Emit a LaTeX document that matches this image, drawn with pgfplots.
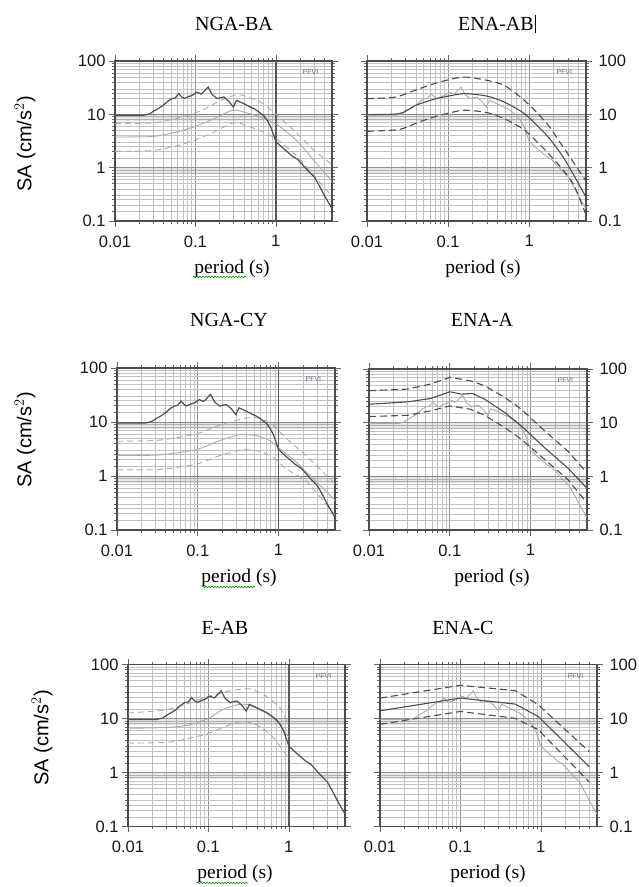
\documentclass[border=0pt]{standalone}
\usepackage{pgfplots}
\pgfplotsset{compat=1.18}
\usepackage{pgfplotstable}
\usepackage{fontspec}
\setmainfont{Liberation Serif}
\setsansfont{Liberation Sans}
\usetikzlibrary{decorations.pathmorphing}
\definecolor{dk}{HTML}{4D4D4D}
\definecolor{lt}{HTML}{AAAAAA}
\definecolor{pfvi}{HTML}{76688A}

\pgfplotstableread{
T SA
0.01 9.6
0.0226 9.6
0.027 10.2
0.030 11.4
0.035 13.0
0.040 14.8
0.045 17.5
0.051 19.7
0.056 20.2
0.062 24.4
0.068 21.0
0.073 19.9
0.082 21.5
0.091 22.7
0.105 26.0
0.118 24.0
0.130 27.5
0.144 32.5
0.162 23.4
0.187 19.7
0.205 20.5
0.226 21.1
0.261 17.5
0.296 13.7
0.324 18.3
0.360 17.0
0.402 15.8
0.460 14.2
0.535 12.8
0.620 11.0
0.714 9.3
0.790 7.5
0.866 5.8
1.0 3.1
1.2 2.4
1.40 1.97
1.60 1.65
1.87 1.43
2.20 1.10
2.49 0.89
3.01 0.67
3.50 0.45
4.02 0.30
5.0 0.17
}\recT

\pgfplotstableread{
T SA
0.01 6.7
0.03 6.9
0.06 8.5
0.095 10.3
0.15 14.0
0.205 18.3
0.33 23.5
0.45 21.0
0.65 17.0
1.04 9.6
1.87 4.3
3.0 2.1
5.0 1.15
}\baU
\pgfplotstableread{
T SA
0.01 3.76
0.03 3.85
0.06 4.7
0.095 5.8
0.154 7.7
0.29 11.9
0.45 10.5
0.65 8.9
1.04 6.4
1.87 3.1
3.0 1.35
5.0 0.55
}\baM
\pgfplotstableread{
T SA
0.01 2.02
0.03 2.1
0.06 2.6
0.095 3.25
0.154 4.3
0.30 7.0
0.45 6.0
0.65 4.9
1.04 3.4
1.87 1.6
3.0 0.7
5.0 0.29
}\baL

\pgfplotstableread{
T SA
0.01 19.7
0.0226 21.1
0.044 30.2
0.079 40.4
0.154 50.0
0.30 43.4
0.49 35.0
0.87 18.3
1.65 6.7
2.7 2.27
5.0 0.56
}\abU
\pgfplotstableread{
T SA
0.01 9.9
0.025 10.3
0.040 14.8
0.072 19.7
0.154 24.4
0.30 22.0
0.49 17.0
0.87 10.3
1.65 4.0
2.7 1.47
5.0 0.28
}\abM
\pgfplotstableread{
T SA
0.01 4.8
0.025 5.2
0.044 7.2
0.079 9.6
0.154 11.9
0.30 10.8
0.49 8.3
0.87 5.1
1.65 1.97
2.7 0.85
3.6 0.45
5.0 0.13
}\abL

\pgfplotstableread{
T SA
0.01 4.4
0.033 4.6
0.095 6.0
0.185 8.7
0.40 11.9
0.60 11.6
0.86 8.7
1.26 4.9
2.2 2.37
5.0 0.72
}\cyU
\pgfplotstableread{
T SA
0.01 2.4
0.033 2.45
0.095 3.07
0.185 4.5
0.33 5.8
0.53 5.6
0.78 4.5
1.05 3.16
1.86 1.54
5.0 0.35
}\cyM
\pgfplotstableread{
T SA
0.01 1.3
0.033 1.32
0.095 1.65
0.185 2.37
0.36 3.07
0.60 2.85
0.86 2.2
1.26 1.33
2.2 0.8
5.0 0.19
}\cyL

\pgfplotstableread{
T SA
0.01 39.3
0.03 42.2
0.058 52.5
0.1 69.8
0.18 60.4
0.27 48.7
0.48 29.5
0.77 17.8
1.5 7.0
2.9 2.95
5.0 1.15
}\enaU
\pgfplotstableread{
T SA
0.01 22.0
0.03 24.4
0.058 28.2
0.1 37.6
0.14 34.0
0.19 35.0
0.27 27.4
0.48 15.4
0.77 8.7
1.5 3.39
2.9 1.43
5.0 0.6
}\enaM
\pgfplotstableread{
T SA
0.01 13.0
0.03 13.7
0.058 16.6
0.1 20.5
0.18 17.8
0.27 13.7
0.48 8.1
0.77 4.9
1.5 2.05
2.9 0.87
5.0 0.32
}\enaL

\pgfplotstableread{
T SA
0.01 12.6
0.03 14.5
0.058 19.3
0.1 25.7
0.2 33.3
0.33 35.2
0.53 25.7
0.78 15.5
0.93 9.4
1.0 8.0
}\eabU
\pgfplotstableread{
T SA
0.01 6.6
0.03 6.8
0.058 7.6
0.1 10.1
0.15 14.5
0.23 18.0
0.31 18.0
0.53 12.6
0.78 7.6
1.0 4.5
}\eabM
\pgfplotstableread{
T SA
0.01 3.5
0.03 3.6
0.058 4.3
0.1 5.3
0.18 7.6
0.27 8.8
0.4 7.6
0.63 4.6
0.93 2.1
1.0 1.9
}\eabL

\pgfplotstableread{
T SA
0.01 23.9
0.1 41.2
0.48 32.8
0.93 18.0
4.0 2.43
}\enacU
\pgfplotstableread{
T SA
0.01 13.9
0.1 23.9
0.48 18.5
0.93 10.9
4.0 1.28
}\enacM
\pgfplotstableread{
T SA
0.01 7.8
0.1 13.5
0.48 10.1
0.93 6.2
4.0 0.67
}\enacL

\pgfplotsset{
  every axis/.append style={
    xmode=log, ymode=log,
    xmin=0.01, xmax=5, ymin=0.1, ymax=100,
    scale only axis,
    axis line style={line width=1.5pt, color=black!70},
    grid=both,
    major grid style={black!42, line width=0.6pt},
    minor grid style={black!24, line width=0.55pt},
    tick align=outside,
    major tick length=6pt, minor tick length=3pt,
    tick style={black!60, line width=0.6pt},
    xtick={0.01,0.1,1}, xticklabels={0.01,0.1,1},
    minor xtick={0.02,0.03,0.04,0.05,0.06,0.07,0.08,0.09,0.2,0.3,0.4,0.5,0.6,0.7,0.8,0.9,2,3,4},
    ytick={0.1,1,10,100}, yticklabels={0.1,1,10,100},
    minor ytick={0.15,0.2,0.25,0.3,0.4,0.5,0.6,0.7,0.8,0.9,1.5,2,2.5,3,4,5,6,7,8,9,15,20,25,30,40,50,60,70,80,90},
    ticklabel style={font=\sffamily\fontsize{16.5}{18}\selectfont, text=black!90},
    xticklabel style={yshift=-5pt},
  },
}
\tikzset{
  recL/.style={dk, line width=1.2pt},
  recR/.style={lt, line width=0.9pt},
  modL/.style={lt, line width=0.9pt},
  modLd/.style={lt, line width=0.9pt, dash pattern=on 6pt off 4pt},
  modR/.style={dk, line width=1.1pt},
  modRd/.style={dk, line width=1.1pt, dash pattern=on 7pt off 4pt},
}
\newcommand{\bands}{%
  \fill[black, opacity=0.09] (axis cs:0.01,7.5) rectangle (axis cs:5,10);
  \fill[black, opacity=0.09] (axis cs:0.01,0.75) rectangle (axis cs:5,1);
  \node[font=\sffamily\fontsize{7}{8}\selectfont, text=pfvi] at (axis cs:2.7,62) {PFVI};
}
\newcommand{\onel}{\draw[black!65, line width=1.6pt] (axis cs:1,0.1) -- (axis cs:1,100);}

\begin{document}
\begin{tikzpicture}
\path[use as bounding box] (0pt,0pt) rectangle (639pt,887pt);

\begin{axis}[at={(115pt,666pt)}, anchor=south west, width=217pt, height=160pt]
\bands \onel
\addplot[modLd, smooth, tension=0.4] table {\baU};
\addplot[modL, smooth, tension=0.4] table {\baM};
\addplot[modLd, smooth, tension=0.4] table {\baL};
\addplot[recL] table {\recT};
\end{axis}
\begin{axis}[at={(367pt,666pt)}, anchor=south west, width=219pt, height=160pt, yticklabel pos=right, yticklabel style={xshift=3pt}]
\bands
\addplot[recR] table {\recT};
\addplot[modRd, smooth, tension=0.4] table {\abU};
\addplot[modR, smooth, tension=0.4] table {\abM};
\addplot[modRd, smooth, tension=0.4] table {\abL};
\end{axis}

\begin{axis}[at={(117pt,357pt)}, anchor=south west, width=218pt, height=162pt]
\bands \onel
\addplot[modLd, smooth, tension=0.4] table {\cyU};
\addplot[modL, smooth, tension=0.4] table {\cyM};
\addplot[modLd, smooth, tension=0.4] table {\cyL};
\addplot[recL] table {\recT};
\end{axis}
\begin{axis}[at={(369pt,357pt)}, anchor=south west, width=218pt, height=161pt, yticklabel pos=right, yticklabel style={xshift=3pt}]
\bands
\addplot[recR] table {\recT};
\addplot[modRd] table {\enaU};
\addplot[modR] table {\enaM};
\addplot[modRd] table {\enaL};
\end{axis}

\begin{axis}[at={(128pt,60.5pt)}, anchor=south west, width=217pt, height=162pt]
\bands \onel
\addplot[modLd, smooth, tension=0.4] table {\eabU};
\addplot[modL, smooth, tension=0.4] table {\eabM};
\addplot[modLd, smooth, tension=0.4] table {\eabL};
\addplot[recL] table {\recT};
\end{axis}
\begin{axis}[at={(380pt,60.5pt)}, anchor=south west, width=217pt, height=162pt, yticklabel pos=right, yticklabel style={xshift=3pt}]
\bands
\addplot[recR] table {\recT};
\addplot[modRd] table {\enacU};
\addplot[modR] table {\enacM};
\addplot[modRd] table {\enacL};
\end{axis}

\begin{scope}[every node/.style={font=\fontsize{20}{22}\selectfont}]
\node at (234pt,863pt) {NGA-BA};
\node at (496pt,863pt) {ENA-AB};
\node at (229pt,567pt) {NGA-CY};
\node at (482pt,567pt) {ENA-A};
\node at (225pt,259pt) {E-AB};
\node at (463pt,259pt) {ENA-C};
\end{scope}
\begin{scope}[every node/.style={font=\fontsize{19.5}{22}\selectfont}]
\node at (232pt,618pt) {period (s)};
\node at (483pt,618pt) {period (s)};
\node at (239pt,309pt) {period (s)};
\node at (492pt,309pt) {period (s)};
\node at (235pt,13pt) {period (s)};
\node at (488pt,13pt) {period (s)};
\end{scope}
\draw[black, line width=0.8pt] (535pt,854pt) -- (535pt,872pt);
\begin{scope}[every node/.style={font=\sffamily\fontsize{20}{22}\selectfont, rotate=90}]
\node at (25pt,743pt) {SA (cm/s$^2$)};
\node at (25pt,447pt) {SA (cm/s$^2$)};
\node at (42pt,149pt) {SA (cm/s$^2$)};
\end{scope}
\begin{scope}[green!60!black, line width=0.6pt, decoration={snake, amplitude=0.8pt, segment length=3pt}]
\draw[decorate] (193pt,610pt) -- (247pt,610pt);
\draw[decorate] (202pt,300pt) -- (255pt,300pt);
\draw[decorate] (197pt,4pt) -- (248pt,4pt);
\end{scope}
\end{tikzpicture}
\end{document}
